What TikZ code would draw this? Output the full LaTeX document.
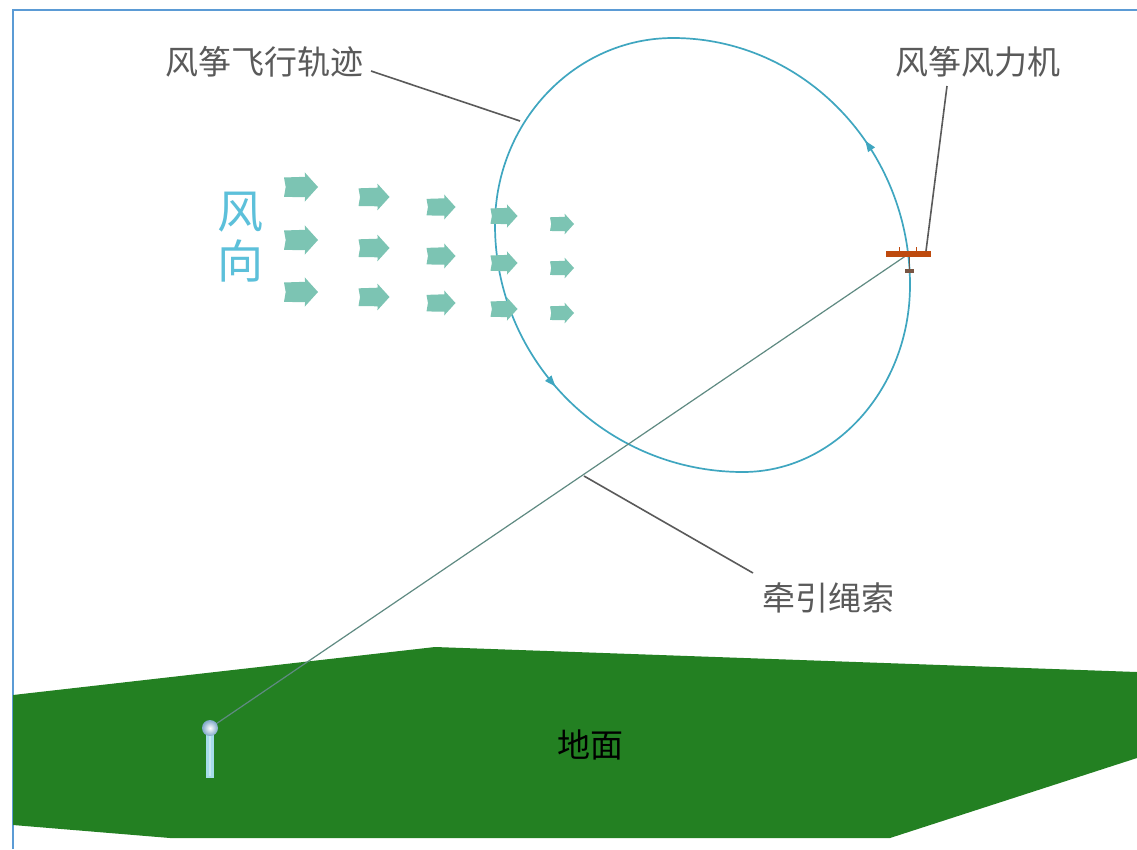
\documentclass[tikz,border=0pt]{standalone}
\usepackage{fontspec}
\newfontfamily\cjk{Noto Sans CJK SC}
\usetikzlibrary{decorations.markings,arrows.meta}

\definecolor{framec}{HTML}{5B9BD5}
\definecolor{groundc}{HTML}{238022}
\definecolor{trackc}{HTML}{3FA6C0}
\definecolor{windc}{HTML}{7CC4B3}
\definecolor{windtxt}{HTML}{5CC0DA}
\definecolor{labelc}{HTML}{5A5A5A}
\definecolor{ropec}{HTML}{5F8A82}
\definecolor{kitec}{HTML}{BE4A0E}
\definecolor{polec}{HTML}{A6DCEA}

\tikzset{
  lbl/.style={font=\cjk\fontsize{33}{33}\selectfont, text=labelc, inner sep=0pt},
  leader/.style={draw=labelc, line width=1.6pt},
  track/.style={draw=trackc, line width=1.7pt},
  pathtip/.tip={Triangle[length=11pt,width=8pt]},
  windarrow/.pic={
    \fill[windc] (-0.5,-0.28) -- (0.12,-0.3) -- (0.11,-0.43) -- (0.5,0)
      -- (0.11,0.43) -- (0.12,0.3) -- (-0.5,0.29) -- (-0.45,0) -- cycle;
  }
}

\begin{document}
\begin{tikzpicture}[x=1pt,y=-1pt]
\useasboundingbox (0,0) rectangle (1137,849);
\fill[white] (0,0) rectangle (1137,849);

% frame edges
\draw[framec, line width=2.2pt] (13,849) -- (13,10) -- (1137,10);

% ground plane
\fill[groundc] (13,695) -- (435,647) -- (1137,672) -- (1137,758)
  -- (890,838) -- (170,838) -- (13,825) -- cycle;
\node[font=\cjk\fontsize{33}{33}\selectfont, text=black, inner sep=0pt] (ground) at (590,745) {地面};

% flight path of the kite (an egg-shaped loop, flown anticlockwise)
\draw[track, postaction={decorate}, decoration={markings,
    mark=at position 0.347 with {\arrow{pathtip}},
    mark=at position 0.83 with {\arrow{pathtip}}}]
  (673,38) .. controls (575,38) and (495,122) .. (495,225)
           .. controls (495,361) and (606,472) .. (743,472)
           .. controls (835,472) and (910,388) .. (910,285)
           .. controls (910,149) and (804,38) .. (673,38);

% wind arrows
\foreach \x/\s/\ya/\yb/\yc in {301/34/187/240/292, 374/31/197/248/297,
    441/29/207/256/303, 504/27/216/263/309, 562/24/224/268/313} {
  \pic[scale=\s] at (\x,\ya) {windarrow};
  \pic[scale=\s] at (\x,\yb) {windarrow};
  \pic[scale=\s] at (\x,\yc) {windarrow};
}
\node[font=\cjk\fontsize{46}{50}\selectfont, text=windtxt, inner sep=0pt,
  align=center] (wind) at (240,237) {风\\向};

% anchor pole on the ground
\coordinate (anchor) at (210,728);
\fill[polec] (206,734) rectangle (214,778);
\fill[white, opacity=0.35] (209,736) rectangle (211,776);

% kite with its tether
\coordinate (kite) at (907,255);
\draw[ropec, line width=1.2pt] (kite) -- (anchor);
\shade[inner color=white, outer color=polec!90!blue!85!black] (anchor) circle (8);
\fill[kitec] (886,250.5) rectangle (931,257);
\draw[kitec, line width=1pt] (899,251) -- (899,247) (916,251) -- (916,247);
\draw[labelc!80!kitec, line width=0.8pt] (909,257) -- (909,270);
\fill[labelc!70!kitec] (905,269) rectangle (914,273);

% labels and leader lines
\node[lbl] (trajlbl) at (264,62) {风筝飞行轨迹};
\coordinate (trajstart) at (371,71);
\coordinate (trajend) at (520,121);
\draw[leader] (trajstart) -- (trajend);

\node[lbl] (kitelbl) at (978,62) {风筝风力机};
\coordinate (kitestart) at (947,86);
\coordinate (kiteend) at (926,251);
\draw[leader] (kitestart) -- (kiteend);

\node[lbl] (ropelbl) at (828,598) {牵引绳索};
\coordinate (ropestart) at (584,476);
\coordinate (ropeend) at (753,573);
\draw[leader] (ropestart) -- (ropeend);
\end{tikzpicture}
\end{document}
